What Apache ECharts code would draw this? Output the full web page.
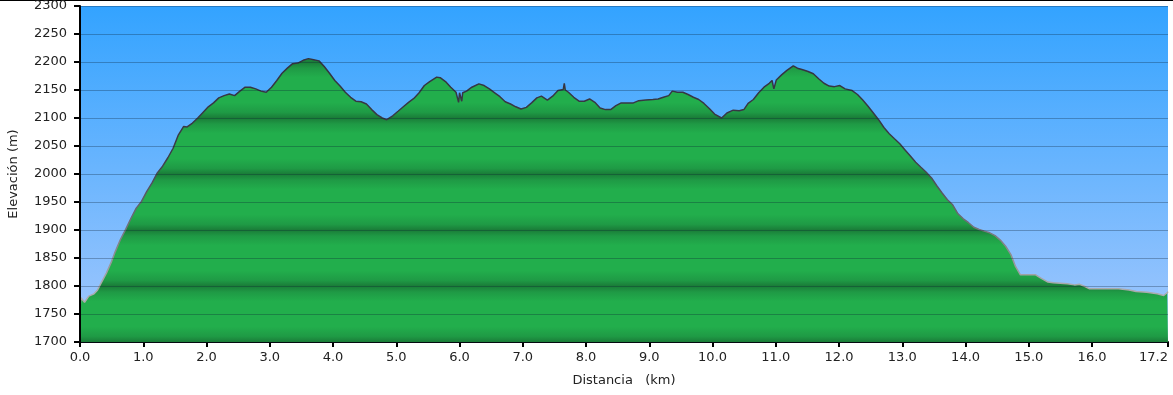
<!DOCTYPE html>
<html>
<head>
<meta charset="utf-8">
<style>
html,body{margin:0;padding:0;background:#fff;}
#chart{width:1173px;height:395px;}
</style>
<script src="https://cdn.jsdelivr.net/npm/echarts@6/dist/echarts.min.js"></script>
</head>
<body>
<div id="chart"></div>
<script>
// Distance along the route (km)
const distances = [
  0.000,0.015,0.072,0.139,0.222,0.278,0.333,0.417,0.500,0.556,0.639,0.722,0.806,0.889,0.972,
  1.056,1.139,1.222,1.306,1.389,1.472,1.556,1.639,1.694,1.778,1.861,1.944,
  2.028,2.111,2.194,2.278,2.361,2.444,2.528,2.611,2.694,2.778,2.861,2.944,
  3.028,3.111,3.194,3.278,3.361,3.444,3.528,3.611,3.694,3.778,3.861,3.944,
  4.028,4.111,4.194,4.278,4.361,4.444,4.528,4.611,4.694,4.778,4.850,4.944,
  5.028,5.111,5.194,5.278,5.361,5.444,5.528,5.639,5.694,5.778,5.861,5.944,5.985,
  6.000,6.020,6.035,6.050,6.111,6.194,6.306,6.389,6.472,6.556,6.639,6.722,6.806,6.889,6.972,
  7.056,7.139,7.222,7.294,7.389,7.472,7.556,7.640,7.656,7.672,7.722,7.806,7.889,7.972,
  8.056,8.139,8.222,8.306,8.389,8.472,8.556,8.667,8.749,8.833,8.944,
  9.056,9.139,9.223,9.307,9.363,9.446,9.530,9.613,9.697,9.781,9.864,9.948,
  10.032,10.143,10.227,10.327,10.422,10.495,10.562,10.645,10.729,10.813,10.896,10.941,10.969,
  11.008,11.091,11.175,11.276,11.342,11.426,11.510,11.593,11.677,11.761,11.844,11.928,
  12.012,12.095,12.207,12.291,12.374,12.458,12.542,12.625,12.709,12.793,12.876,12.960,
  13.043,13.127,13.211,13.294,13.378,13.462,13.545,13.629,13.713,13.796,13.880,13.964,
  14.047,14.131,14.215,14.298,14.382,14.466,14.549,14.633,14.717,14.789,14.867,14.968,
  15.107,15.191,15.302,15.386,15.498,15.609,15.721,15.804,15.888,15.960,
  16.083,16.250,16.418,16.585,16.697,16.864,17.031,17.132,17.187,17.200
];
// Elevation (m)
const elevations = [
  1762,1779,1771,1782,1786,1793,1805,1823,1844,1861,1883,1901,1921,1939,1951,
  1969,1984,2002,2014,2029,2046,2070,2085,2084,2091,2100,2110,
  2120,2127,2136,2140,2143,2140,2148,2155,2155,2152,2148,2146,
  2155,2167,2180,2189,2197,2198,2203,2206,2204,2202,2192,2180,
  2167,2157,2146,2137,2130,2129,2125,2115,2106,2100,2097,2104,
  2112,2120,2128,2135,2145,2158,2165,2173,2172,2165,2155,2146,2128,
  2145,2145,2130,2145,2148,2155,2161,2158,2152,2145,2138,2129,2125,2120,2116,
  2119,2127,2136,2139,2132,2139,2149,2151,2162,2150,2146,2137,2130,2130,
  2134,2128,2118,2115,2115,2122,2127,2127,2127,2131,2132,
  2133,2134,2137,2140,2148,2146,2146,2142,2137,2133,2126,2117,
  2107,2100,2109,2114,2113,2115,2126,2133,2145,2155,2162,2167,2152,
  2168,2177,2185,2193,2189,2186,2183,2179,2170,2162,2157,2156,
  2158,2152,2149,2142,2132,2121,2109,2097,2083,2072,2063,2054,
  2043,2032,2021,2012,2003,1993,1979,1966,1954,1945,1929,1920,
  1913,1905,1901,1898,1895,1890,1882,1871,1856,1835,1820,1820,
  1820,1814,1807,1806,1805,1804,1802,1803,1799,1795,
  1795,1795,1795,1793,1790,1789,1786,1783,1788,1790
];
// Tick labels on the distance axis
const xTickValues = [0,1,2,3,4,5,6,7,8,9,10,11,12,13,14,15,16,17.2];

const yMin = 1700, yMax = 2300, yStep = 50;
const gridTop = 6, gridBottomPx = 342;

const seriesData = distances.map((d, i) => [d, elevations[i]]);

// banded green fill: dark at each hundred, bright around each fifty
const dark = '#1a7c38', mid = '#1f9a45', bright = '#22ae4c';
const stops = [];
const nBands = (yMax - yMin) / yStep;
for (let i = 0; i <= nBands; i++) {
  const level = yMax - i * yStep;
  const off = i / nBands;
  const isHundred = level % 100 === 0;
  stops.push({offset: off, color: isHundred ? dark : bright});
  if (i < nBands) {
    // next level is the opposite type
    if (isHundred) {
      stops.push({offset: off + 0.22 / nBands, color: mid});
      stops.push({offset: off + 0.55 / nBands, color: bright});
    } else {
      stops.push({offset: off + 0.45 / nBands, color: bright});
      stops.push({offset: off + 0.8 / nBands, color: mid});
    }
  }
}

const chart = echarts.init(document.getElementById('chart'), null, {renderer: 'canvas'});
chart.setOption({
  animation: false,
  backgroundColor: '#ffffff',
  grid: {
    left: 80, right: 5, top: gridTop, bottom: 395 - gridBottomPx,
    containLabel: false,
    outerBoundsMode: 'none',
    show: true,
    borderWidth: 0,
    backgroundColor: new echarts.graphic.LinearGradient(0, 0, 0, 1, [
      {offset: 0, color: '#33a3ff'},
      {offset: 1, color: '#a4c8fd'}
    ])
  },
  graphic: [
    {type: 'rect', left: 0, top: 0, shape: {width: 1173, height: 1}, style: {fill: '#000'}}
  ],
  xAxis: {
    type: 'value', min: 0, max: 17.2, interval: 1,
    name: 'Distancia   (km)', nameLocation: 'middle', nameGap: 32,
    nameTextStyle: {fontFamily: 'DejaVu Sans', fontSize: 13, color: '#222'},
    axisLine: {show: true, onZero: false, lineStyle: {color: '#000', width: 2}},
    axisTick: {show: true, length: 5, customValues: xTickValues, lineStyle: {color: '#000', width: 2}},
    axisLabel: {
      customValues: xTickValues, margin: 9, alignMaxLabel: 'right',
      fontFamily: 'DejaVu Sans', fontSize: 13, color: '#222',
      formatter: v => v.toFixed(1)
    },
    splitLine: {show: false}
  },
  yAxis: {
    type: 'value', min: yMin, max: yMax, interval: yStep, z: 3,
    name: 'Elevación (m)', nameLocation: 'middle', nameGap: 60, nameRotate: 90,
    nameTextStyle: {fontFamily: 'DejaVu Sans', fontSize: 13, color: '#222'},
    axisLine: {show: true, lineStyle: {color: '#000', width: 2}},
    axisTick: {show: true, length: 6, lineStyle: {color: '#000', width: 2}},
    axisLabel: {margin: 13, fontFamily: 'DejaVu Sans', fontSize: 13, color: '#222',
      formatter: v => String(v)},
    splitLine: {show: true, lineStyle: {color: 'rgba(10,30,50,0.3)', width: 1}}
  },
  series: [{
    type: 'line',
    data: seriesData,
    symbol: 'none',
    smooth: false,
    z: 2,
    lineStyle: {
      width: 1.5,
      color: {
        type: 'linear', global: true, x: 0, y: gridTop, x2: 0, y2: gridBottomPx,
        colorStops: [
          {offset: 0, color: '#2e2e3c'},
          {offset: 0.45, color: '#3c3c48'},
          {offset: 0.65, color: '#707078'},
          {offset: 0.82, color: '#a8a8aa'},
          {offset: 1, color: '#b4b4b4'}
        ]
      }
    },
    areaStyle: {
      opacity: 1,
      origin: 'start',
      color: {
        type: 'linear', global: true, x: 0, y: gridTop, x2: 0, y2: gridBottomPx,
        colorStops: stops
      }
    }
  }]
});
</script>
</body>
</html>
